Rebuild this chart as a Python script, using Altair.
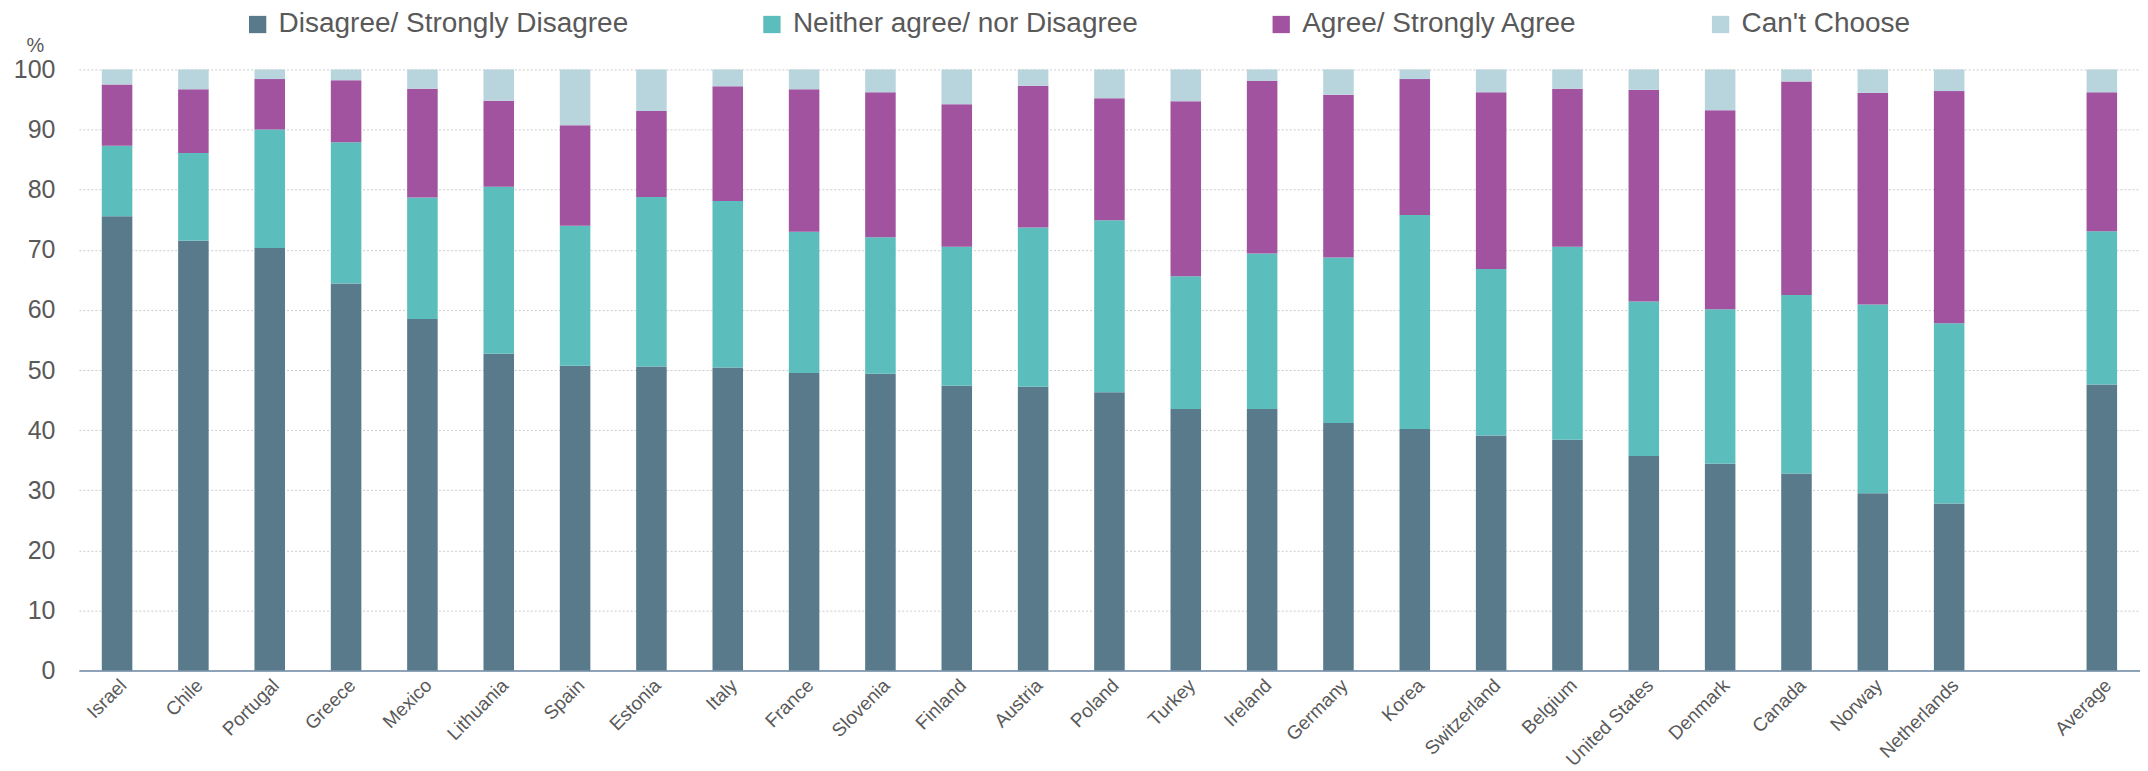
import altair as alt
import pandas as pd

countries = ["Israel", "Chile", "Portugal", "Greece", "Mexico", "Lithuania", "Spain",
             "Estonia", "Italy", "France", "Slovenia", "Finland", "Austria", "Poland",
             "Turkey", "Ireland", "Germany", "Korea", "Switzerland", "Belgium",
             "United States", "Denmark", "Canada", "Norway", "Netherlands", "Average"]

disagree = [75.6, 71.5, 70.3, 64.4, 58.5, 52.7, 50.7, 50.6, 50.4, 49.5, 49.4, 47.4, 47.2,
            46.3, 43.5, 43.5, 41.2, 40.2, 39.1, 38.4, 35.7, 34.4, 32.8, 29.5, 27.8, 47.6]
neither = [11.7, 14.6, 19.7, 23.5, 20.2, 27.8, 23.3, 28.2, 27.7, 23.5, 22.7, 23.1, 26.5,
           28.6, 22.1, 25.9, 27.5, 35.6, 27.7, 32.1, 25.7, 25.7, 29.7, 31.4, 30.0, 25.5]
agree = [10.2, 10.6, 8.4, 10.3, 18.1, 14.3, 16.7, 14.3, 19.1, 23.7, 24.1, 23.7, 23.6,
         20.3, 29.1, 28.7, 27.1, 22.6, 29.4, 26.3, 35.2, 33.1, 35.5, 35.2, 38.6, 23.1]
cant = [2.5, 3.3, 1.6, 1.8, 3.2, 5.2, 9.3, 6.9, 2.8, 3.3, 3.8, 5.8, 2.7,
        4.8, 5.3, 1.9, 4.2, 1.6, 3.8, 3.2, 3.4, 6.8, 2.0, 3.9, 3.6, 3.8]

series = ["Disagree/ Strongly Disagree", "Neither agree/ nor Disagree",
          "Agree/ Strongly Agree", "Can't Choose"]
colors = ["#587a8a", "#5cbdbd", "#a153a0", "#b8d4dc"]

rows = []
for i, c in enumerate(countries):
    for k, (s, vals) in enumerate(zip(series, [disagree, neither, agree, cant])):
        rows.append({"country": c, "series": s, "value": vals[i], "k": k})
df = pd.DataFrame(rows)

x_domain = countries[:-1] + [" "] + [countries[-1]]
txt = "#595959"
font = "Liberation Sans, Arial, sans-serif"

chart = alt.Chart(df).mark_bar().encode(
    x=alt.X("country:N",
            scale=alt.Scale(domain=x_domain, paddingInner=0.6, paddingOuter=0.3),
            axis=alt.Axis(title=None, labelAngle=-45, labelFontSize=19, labelColor=txt,
                          ticks=False, domainColor="#8fa3b8", domainWidth=2,
                          labelPadding=5, labelAlign="right", labelBaseline="top",
                          grid=False)),
    y=alt.Y("value:Q", stack="zero",
            scale=alt.Scale(domain=[0, 100], nice=False),
            axis=alt.Axis(values=list(range(0, 101, 10)), title="%", titleAngle=0,
                          titleX=-44, titleY=-18, titleFontSize=20, titleFontWeight="normal",
                          titleColor=txt, titleAlign="center", titleBaseline="alphabetic",
                          labelFontSize=25, labelColor=txt, labelPadding=24,
                          domain=False, ticks=False, grid=True,
                          gridColor="#cccccc", gridDash=[2, 2], gridWidth=1)),
    color=alt.Color("series:N", scale=alt.Scale(domain=series, range=colors),
                    legend=alt.Legend(title=None, orient="none", direction="horizontal",
                                      legendX=165, legendY=-59, labelFontSize=28,
                                      labelColor=txt, symbolType="square", symbolSize=300,
                                      symbolStrokeWidth=0, labelOffset=7, columnPadding=129,
                                      padding=0, labelLimit=0)),
    order=alt.Order("k:Q", sort="ascending"),
).properties(
    width=2064, height=602,
    autosize=alt.AutoSizeParams(type="none"),
    padding={"left": 71, "top": 61, "right": 0, "bottom": 95},
).configure(font=font).configure_view(stroke=None)

chart.save("out.html", embed_options={"renderer": "svg", "actions": False})
